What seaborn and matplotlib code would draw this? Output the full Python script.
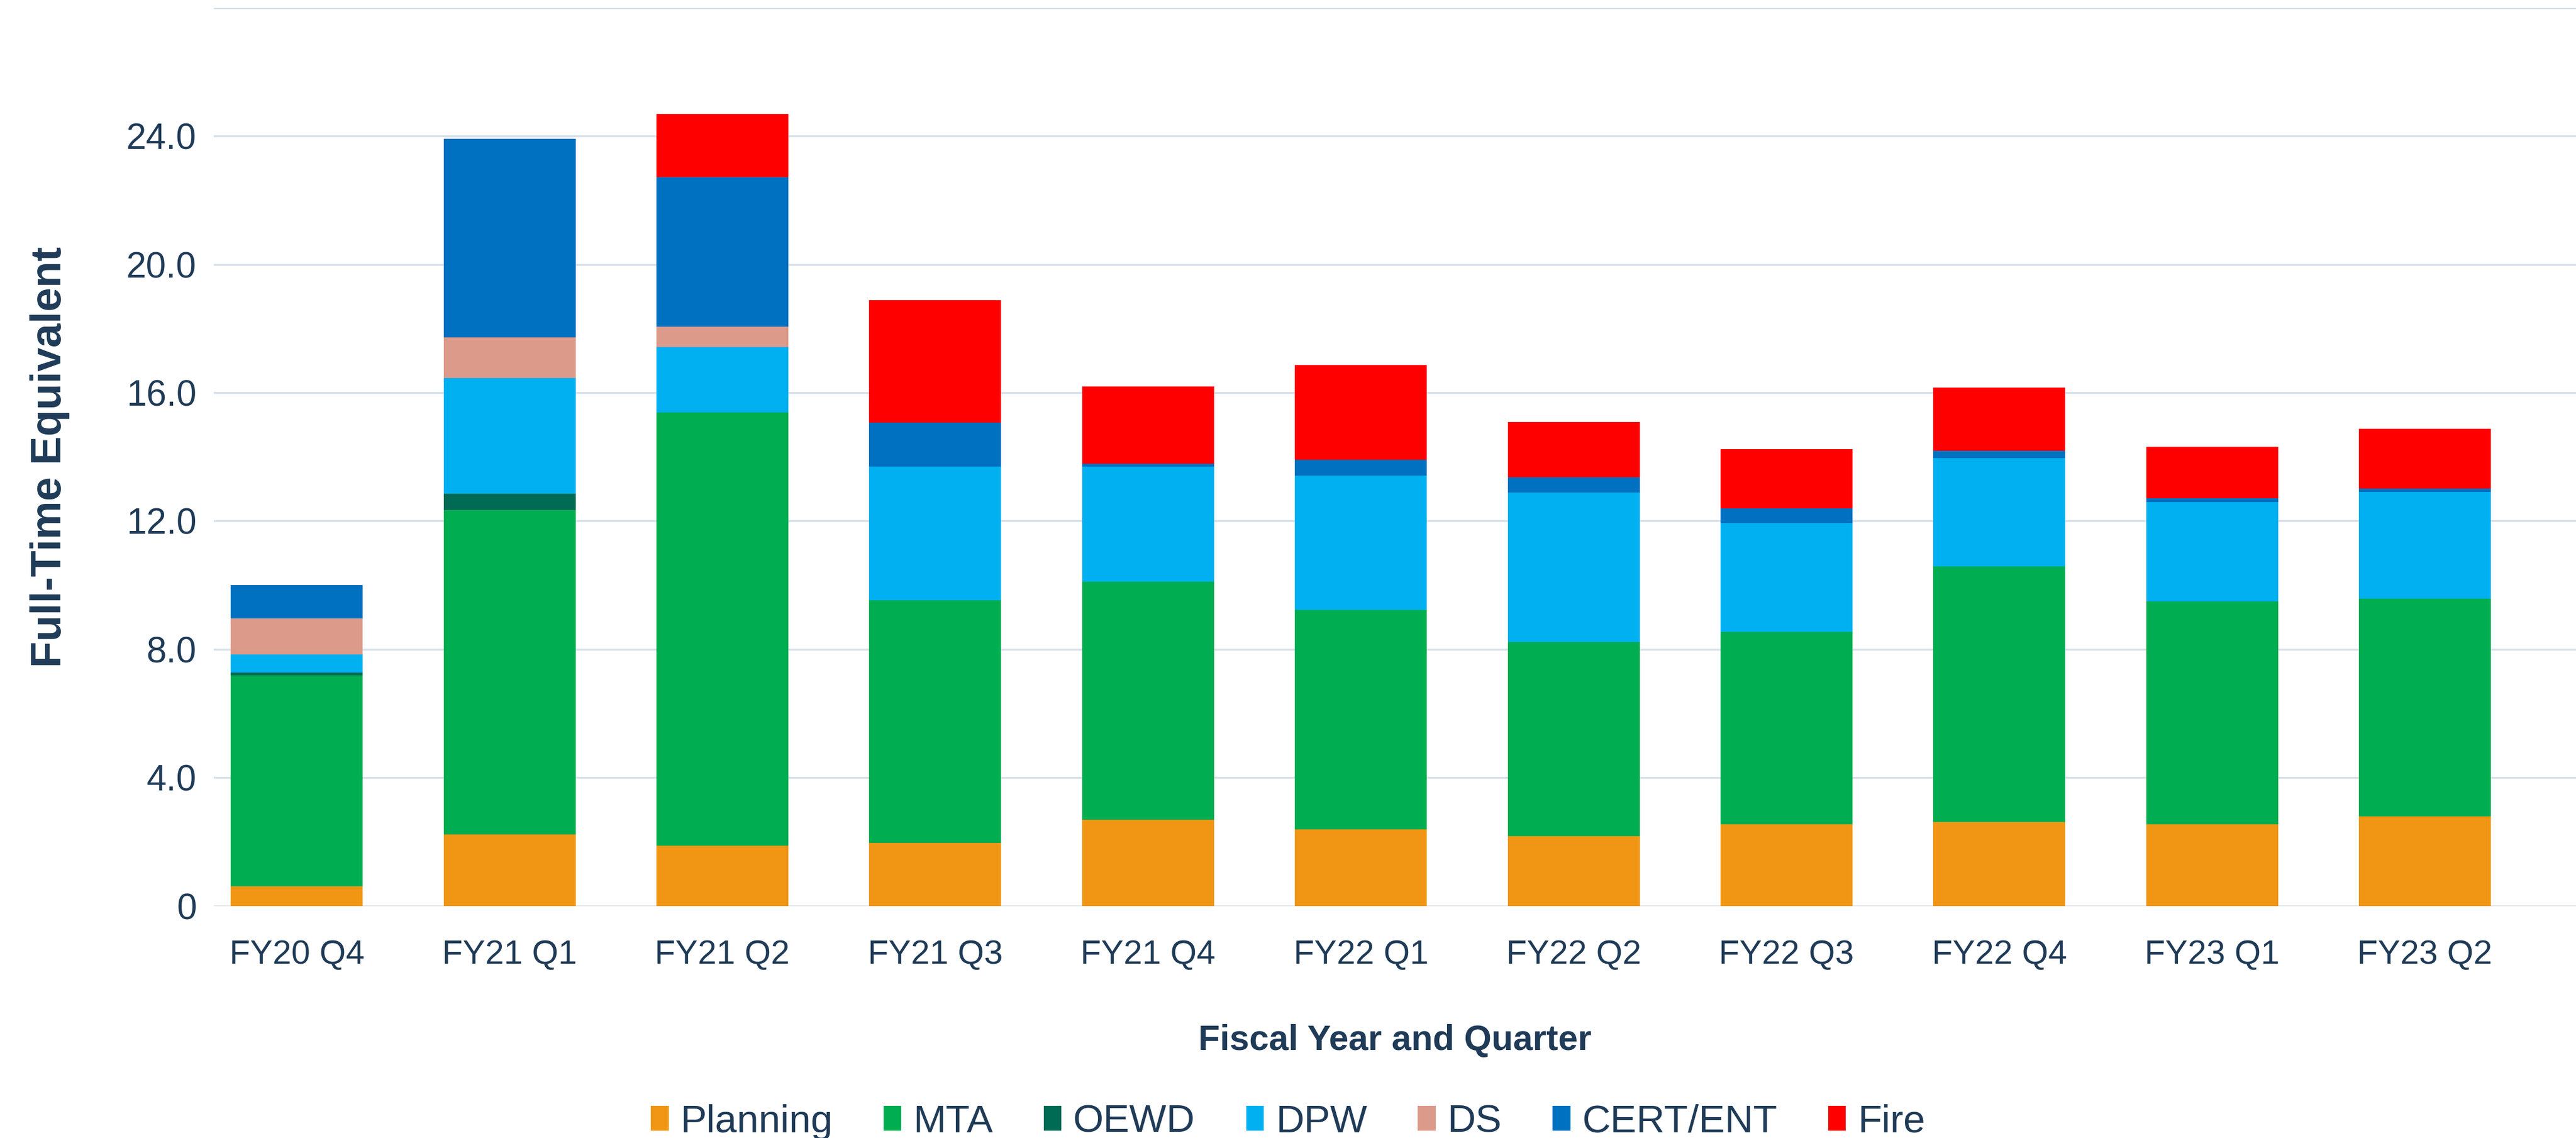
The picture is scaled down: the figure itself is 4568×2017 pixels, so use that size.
import matplotlib
matplotlib.use("Agg")
import matplotlib.pyplot as plt
import seaborn as sns
import numpy as np
from matplotlib.patches import Patch

# Data
quarters = ["FY20 Q4", "FY21 Q1", "FY21 Q2", "FY21 Q3", "FY21 Q4", "FY22 Q1",
            "FY22 Q2", "FY22 Q3", "FY22 Q4", "FY23 Q1", "FY23 Q2"]
planning = [0.61, 2.23, 1.87, 1.97, 2.68, 2.39, 2.18, 2.54, 2.61, 2.54, 2.79]
mta      = [6.58, 10.11, 13.52, 7.55, 7.43, 6.84, 6.05, 6.01, 7.97, 6.95, 6.79]
oewd     = [0.08, 0.52, 0.0, 0.0, 0.0, 0.0, 0.0, 0.0, 0.0, 0.0, 0.0]
dpw      = [0.57, 3.60, 2.04, 4.17, 3.58, 4.19, 4.65, 3.39, 3.39, 3.10, 3.33]
ds       = [1.13, 1.26, 0.64, 0.0, 0.0, 0.0, 0.0, 0.0, 0.0, 0.0, 0.0]
cert_ent = [1.03, 6.20, 4.65, 1.38, 0.10, 0.49, 0.49, 0.46, 0.22, 0.12, 0.10]
fire     = [0.0, 0.0, 1.97, 3.81, 2.41, 2.95, 1.72, 1.85, 1.97, 1.61, 1.86]

series_names = ["Planning", "MTA", "OEWD", "DPW", "DS", "CERT/ENT", "Fire"]
series_vals = [planning, mta, oewd, dpw, ds, cert_ent, fire]
colors = ["#F09614", "#00AD50", "#006B54", "#00B0F0", "#DC9A8A", "#0070C0", "#FF0000"]

textcol = "#1F3B57"
gridcol = "#D6E1EA"

sns.set_style("white")
plt.rcParams['font.family'] = ['Liberation Sans', 'DejaVu Sans']

fig = plt.figure(figsize=(45.68, 20.17), dpi=100)
ax = fig.add_axes([0.083, 0.204, 0.917, 0.789])

bottom = np.zeros(len(quarters))
for name, vals, col in zip(series_names, series_vals, colors):
    sns.barplot(x=quarters, y=vals, bottom=bottom, color=col, width=0.62,
                errorbar=None, saturation=1, linewidth=0, ax=ax, zorder=3)
    bottom = bottom + np.array(vals)

ax.set_ylim(0, 28)
ax.set_xlim(-0.39, 10.71)
ax.set_yticks([0, 4, 8, 12, 16, 20, 24, 28])
ax.set_yticklabels(["0", "4.0", "8.0", "12.0", "16.0", "20.0", "24.0", ""])
ax.yaxis.grid(True, color=gridcol, linewidth=2.5, zorder=0)
ax.set_axisbelow(True)
for s in ax.spines.values():
    s.set_visible(False)
ax.tick_params(axis='both', length=0, colors=textcol)
ax.tick_params(axis='x', labelsize=43, pad=43)
ax.tick_params(axis='y', labelsize=46, pad=22)

ax.set_ylabel("Full-Time Equivalent", fontsize=55, fontweight='bold', color=textcol, labelpad=72)
ax.set_xlabel("Fiscal Year and Quarter", fontsize=45, fontweight='bold', color=textcol, labelpad=68)

handles = [Patch(facecolor=c, edgecolor='none', label=n) for n, c in zip(series_names, colors)]
fig.legend(handles=handles, loc='center', bbox_to_anchor=(0.5, 0.014), ncol=7,
           frameon=False, fontsize=50, labelcolor=textcol, handlelength=0.45,
           handleheight=0.6, handletextpad=0.3, columnspacing=1.3)

fig.savefig("out.png", dpi=100, facecolor='white')
